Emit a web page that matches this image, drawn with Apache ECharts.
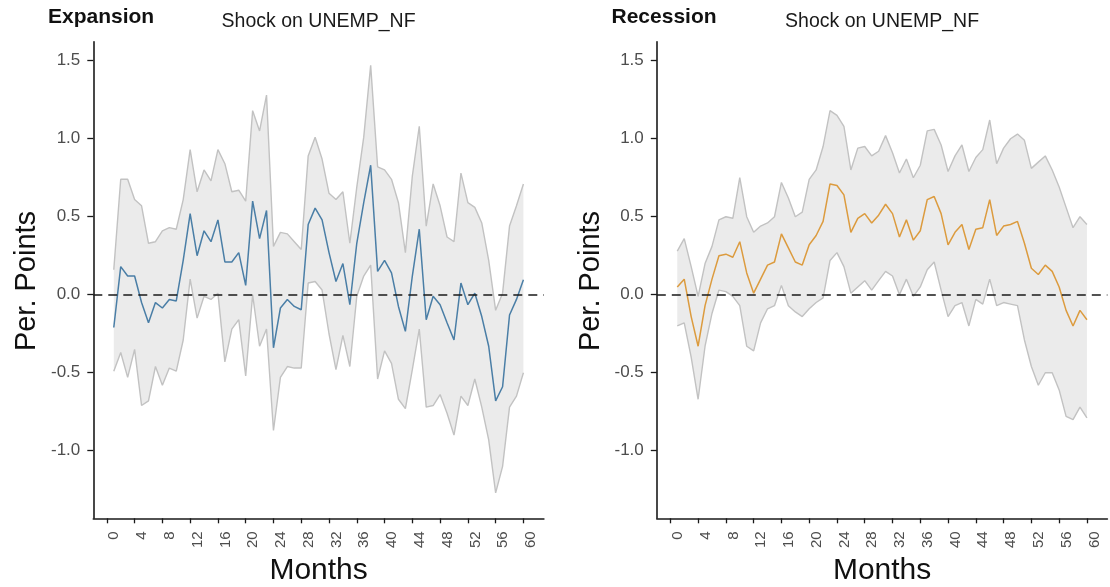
<!DOCTYPE html>
<html>
<head>
<meta charset="utf-8">
<title>Shock on UNEMP_NF</title>
<script src="https://cdn.jsdelivr.net/npm/echarts@6/dist/echarts.min.js"></script>
<style>
  html, body { margin: 0; padding: 0; background: #ffffff; }
  #chart { width: 1110px; height: 587px; }
</style>
</head>
<body>
<div id="chart"></div>
<script>
// Horizon in months (response computed for months 1..60)
const months = [1, 2, 3, 4, 5, 6, 7, 8, 9, 10, 11, 12, 13, 14, 15, 16, 17, 18, 19, 20,
  21, 22, 23, 24, 25, 26, 27, 28, 29, 30, 31, 32, 33, 34, 35, 36, 37, 38, 39, 40,
  41, 42, 43, 44, 45, 46, 47, 48, 49, 50, 51, 52, 53, 54, 55, 56, 57, 58, 59, 60];

const xTicks = [0, 4, 8, 12, 16, 20, 24, 28, 32, 36, 40, 44, 48, 52, 56, 60];
const yTicks = [-1.0, -0.5, 0.0, 0.5, 1.0, 1.5];

// Expansion regime: impulse response and confidence band
const expMean = [-0.21, 0.18, 0.12, 0.12, -0.05, -0.18, -0.05, -0.085, -0.03, -0.04,
  0.22, 0.52, 0.25, 0.41, 0.34, 0.48, 0.21, 0.21, 0.27, 0.06,
  0.60, 0.36, 0.54, -0.34, -0.085, -0.03, -0.075, -0.096, 0.45, 0.555,
  0.48, 0.27, 0.085, 0.20, -0.064, 0.33, 0.59, 0.83, 0.15, 0.22,
  0.14, -0.075, -0.235, 0.12, 0.42, -0.16, -0.01, -0.064, -0.18, -0.29,
  0.075, -0.064, 0.01, -0.14, -0.33, -0.68, -0.59, -0.13, -0.03, 0.096];
const expUpper = [0.16, 0.74, 0.74, 0.61, 0.57, 0.33, 0.34, 0.41, 0.43, 0.42,
  0.61, 0.93, 0.66, 0.80, 0.73, 0.93, 0.84, 0.66, 0.67, 0.60,
  1.18, 1.05, 1.28, 0.31, 0.40, 0.39, 0.34, 0.29, 0.89, 1.01,
  0.87, 0.65, 0.61, 0.66, 0.33, 0.69, 1.01, 1.47, 0.82, 0.80,
  0.74, 0.59, 0.27, 0.76, 1.08, 0.44, 0.71, 0.57, 0.37, 0.34,
  0.78, 0.59, 0.56, 0.46, 0.22, -0.10, 0.01, 0.44, 0.57, 0.71];
const expLower = [-0.49, -0.37, -0.53, -0.35, -0.71, -0.68, -0.46, -0.58, -0.47, -0.49,
  -0.29, 0.10, -0.15, -0.01, -0.03, 0.01, -0.43, -0.22, -0.16, -0.52,
  0.00, -0.33, -0.22, -0.87, -0.53, -0.46, -0.47, -0.47, 0.075, 0.085,
  0.03, -0.25, -0.48, -0.26, -0.46, -0.01, 0.12, 0.19, -0.54, -0.36,
  -0.44, -0.67, -0.73, -0.48, -0.22, -0.72, -0.71, -0.64, -0.76, -0.90,
  -0.65, -0.71, -0.54, -0.72, -0.93, -1.27, -1.10, -0.72, -0.65, -0.50];

// Recession regime: impulse response and confidence band
const recMean = [0.05, 0.10, -0.14, -0.33, -0.07, 0.10, 0.25, 0.26, 0.24, 0.34,
  0.14, 0.01, 0.10, 0.19, 0.21, 0.39, 0.30, 0.21, 0.19, 0.32,
  0.38, 0.47, 0.71, 0.70, 0.64, 0.40, 0.49, 0.52, 0.46, 0.51,
  0.58, 0.52, 0.37, 0.48, 0.35, 0.41, 0.61, 0.63, 0.52, 0.32,
  0.40, 0.45, 0.29, 0.42, 0.43, 0.61, 0.38, 0.44, 0.45, 0.47,
  0.33, 0.17, 0.13, 0.19, 0.15, 0.05, -0.10, -0.20, -0.10, -0.16];
const recUpper = [0.28, 0.36, 0.18, -0.01, 0.20, 0.31, 0.48, 0.50, 0.49, 0.75,
  0.50, 0.40, 0.44, 0.46, 0.50, 0.72, 0.62, 0.50, 0.53, 0.74,
  0.80, 0.95, 1.18, 1.15, 1.08, 0.80, 0.94, 0.95, 0.89, 0.92,
  1.02, 0.91, 0.78, 0.87, 0.75, 0.83, 1.05, 1.06, 0.96, 0.79,
  0.89, 0.96, 0.79, 0.88, 0.93, 1.12, 0.84, 0.94, 1.00, 1.03,
  0.99, 0.81, 0.85, 0.89, 0.80, 0.69, 0.56, 0.43, 0.50, 0.45];
const recLower = [-0.20, -0.18, -0.40, -0.67, -0.33, -0.12, 0.03, 0.02, -0.01, -0.07,
  -0.33, -0.36, -0.18, -0.09, -0.07, 0.06, -0.07, -0.11, -0.14, -0.09,
  -0.05, -0.02, 0.22, 0.27, 0.18, 0.01, 0.05, 0.09, 0.03, 0.09,
  0.15, 0.12, 0.00, 0.10, -0.01, 0.05, 0.16, 0.21, 0.03, -0.14,
  -0.07, -0.05, -0.20, -0.03, -0.06, 0.10, -0.07, -0.05, -0.06, -0.07,
  -0.29, -0.46, -0.58, -0.50, -0.50, -0.61, -0.78, -0.80, -0.72, -0.79];

const FONT = '"Liberation Sans", Arial, Helvetica, sans-serif';
const AXIS_COLOR = '#1a1a1a';
const TEXT_GREY = '#4d4d4d';
const BAND_FILL = '#ebebeb';
const BAND_EDGE = '#c2c2c2';

const X_MIN = -1.95, X_MAX = 62.95;
const Y_MIN = -1.433, Y_MAX = 1.622;

const panels = [
  { left: 93.3, regime: 'Expansion', mean: expMean, upper: expUpper, lower: expLower, color: '#4a7ea6' },
  { left: 656.8, regime: 'Recession', mean: recMean, upper: recUpper, lower: recLower, color: '#dc9b3e' }
];
const PANEL_W = 450.6, PANEL_TOP = 41.7, PANEL_H = 476.6;

function pairs(ys) {
  return months.map((m, i) => [m, ys[i]]);
}

const grids = [], xAxes = [], yAxes = [], series = [], graphics = [];

panels.forEach((p, k) => {
  grids.push({ left: p.left, top: PANEL_TOP, width: PANEL_W, height: PANEL_H, outerBoundsMode: 'none' });

  xAxes.push({
    type: 'value', gridIndex: k, min: X_MIN, max: X_MAX,
    axisLine: { show: true, onZero: false, lineStyle: { color: AXIS_COLOR, width: 1.6 } },
    axisTick: { show: true, customValues: xTicks, length: 5, lineStyle: { color: AXIS_COLOR, width: 1.3 } },
    axisLabel: {
      show: true, customValues: xTicks, rotate: 90, margin: 13,
      verticalAlign: 'top',
      color: TEXT_GREY, fontFamily: FONT, fontSize: 15
    },
    splitLine: { show: false }
  });

  yAxes.push({
    type: 'value', gridIndex: k, min: Y_MIN, max: Y_MAX,
    axisLine: { show: true, onZero: false, lineStyle: { color: AXIS_COLOR, width: 1.6 } },
    axisTick: { show: true, customValues: yTicks, length: 6, lineStyle: { color: AXIS_COLOR, width: 1.3 } },
    axisLabel: {
      show: true, customValues: yTicks, margin: 13,
      color: TEXT_GREY, fontFamily: FONT, fontSize: 17,
      formatter: v => Number(v).toFixed(1)
    },
    splitLine: { show: false }
  });

  // Confidence band fill
  series.push({
    type: 'custom', xAxisIndex: k, yAxisIndex: k, silent: true, z: 1,
    data: [[months[0], p.mean[0]]],
    renderItem: (params, api) => {
      const pts = [];
      for (let i = 0; i < months.length; i++) pts.push(api.coord([months[i], p.upper[i]]));
      for (let i = months.length - 1; i >= 0; i--) pts.push(api.coord([months[i], p.lower[i]]));
      return { type: 'polygon', shape: { points: pts }, style: { fill: BAND_FILL } };
    }
  });

  // Band edges
  [p.upper, p.lower].forEach(edge => {
    series.push({
      type: 'line', xAxisIndex: k, yAxisIndex: k, data: pairs(edge),
      symbol: 'none', silent: true, z: 2,
      lineStyle: { color: BAND_EDGE, width: 1.4 }
    });
  });

  // Point estimate with zero reference line
  series.push({
    type: 'line', xAxisIndex: k, yAxisIndex: k, data: pairs(p.mean),
    symbol: 'none', silent: true, z: 4,
    lineStyle: { color: p.color, width: 1.5 },
    markLine: {
      silent: true, symbol: 'none', label: { show: false },
      lineStyle: { color: '#1a1a1a', width: 1.6, type: [9, 6] },
      data: [{ yAxis: 0 }]
    }
  });

  const dx = p.left - panels[0].left;
  graphics.push(
    { type: 'text', x: 48 + dx, y: 17.4,
      style: { text: p.regime, font: 'bold 21px ' + FONT, fill: '#111111', align: 'left', verticalAlign: 'middle' } },
    { type: 'text', x: p.left + PANEL_W / 2, y: 21.3,
      style: { text: 'Shock on UNEMP_NF', font: '19.5px ' + FONT, fill: '#1a1a1a', align: 'center', verticalAlign: 'middle' } },
    { type: 'text', x: 27.4 + dx, y: 281, rotation: Math.PI / 2,
      style: { text: 'Per. Points', font: '29px ' + FONT, fill: '#111111', align: 'center', verticalAlign: 'middle' } },
    { type: 'text', x: p.left + PANEL_W / 2, y: 570.4,
      style: { text: 'Months', font: '30px ' + FONT, fill: '#111111', align: 'center', verticalAlign: 'middle' } }
  );
});

const chart = echarts.init(document.getElementById('chart'), null, { renderer: 'canvas' });
chart.setOption({
  animation: false,
  backgroundColor: '#ffffff',
  grid: grids,
  xAxis: xAxes,
  yAxis: yAxes,
  series: series,
  graphic: graphics
});
</script>
</body>
</html>
